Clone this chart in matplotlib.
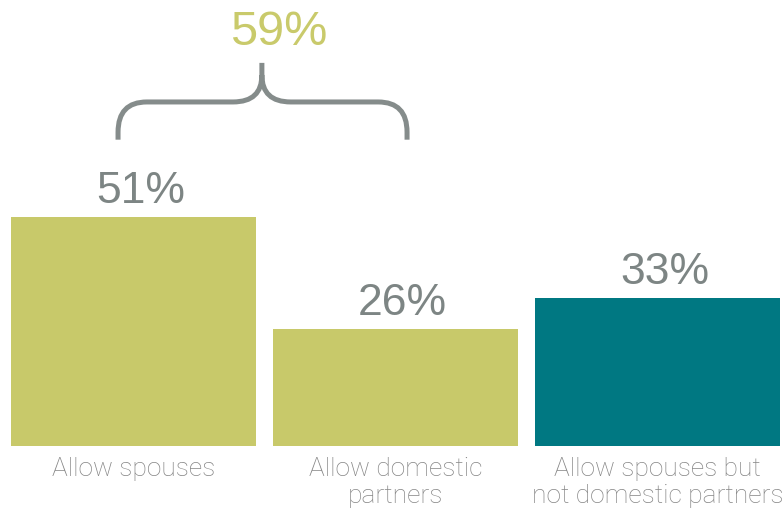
import numpy as np
import matplotlib.pyplot as plt
from matplotlib.path import Path
from matplotlib.patches import PathPatch

categories = ["Allow spouses", "Allow domestic\npartners", "Allow spouses but\nnot domestic partners"]
values = [51, 26, 33]
combined = 59  # spouses or domestic partners
colors = ["#C8C96A", "#C8C96A", "#007882"]

grey = "#7D8584"
label_grey = "#858585"

fig = plt.figure(figsize=(7.82, 5.08), dpi=100)
ax = fig.add_axes([0, 0, 1, 1])
x = np.arange(len(values))
ax.bar(x, values, width=0.935, color=colors)
ax.set_xlim(-0.5095, 2.475)
ax.set_ylim(-13.8, 99.3)
ax.axis("off")

for xi, v in zip(x, values):
    ax.annotate(f"{v}%", (xi, v), xytext=(5, 10), textcoords="offset points",
                ha="center", va="baseline", fontsize=32, color=grey,
                family="Liberation Sans")

for xi, c in zip(x, categories):
    ax.annotate(c, (xi, 0), xytext=(0, -8), textcoords="offset points",
                ha="center", va="top", fontsize=19, color=label_grey,
                family="Roboto", fontweight="light", linespacing=1.13)

# brace over the first two bars
xl, xr = -0.059, 1.044
xm = 0.49
yb, yh, yt = 68.2, 76.6, 85.3
rx, ry = 0.11, yh - yb
verts = [
    (xl, yb), (xl, yb + ry * 0.2),
    (xl, yh), (xl + rx, yh),
    (xm - rx, yh),
    (xm, yh), (xm, yt - 2.7),
    (xm, yt),
    (xm, yt - 2.7),
    (xm, yh), (xm + rx, yh),
    (xr - rx, yh),
    (xr, yh), (xr, yb + ry * 0.2),
    (xr, yb),
]
codes = [Path.MOVETO, Path.LINETO,
         Path.CURVE3, Path.CURVE3,
         Path.LINETO,
         Path.CURVE3, Path.CURVE3,
         Path.LINETO,
         Path.MOVETO,
         Path.CURVE3, Path.CURVE3,
         Path.LINETO,
         Path.CURVE3, Path.CURVE3,
         Path.LINETO]
ax.add_patch(PathPatch(Path(verts, codes), facecolor="none", edgecolor="#858C8B",
                       lw=3.6, capstyle="butt", joinstyle="round"))

ax.text(0.555, yt + 4.0, f"{combined}%", ha="center", va="baseline",
        fontsize=35, color="#C9CA6B", family="Liberation Sans")

fig.savefig("out.png", dpi=100)
